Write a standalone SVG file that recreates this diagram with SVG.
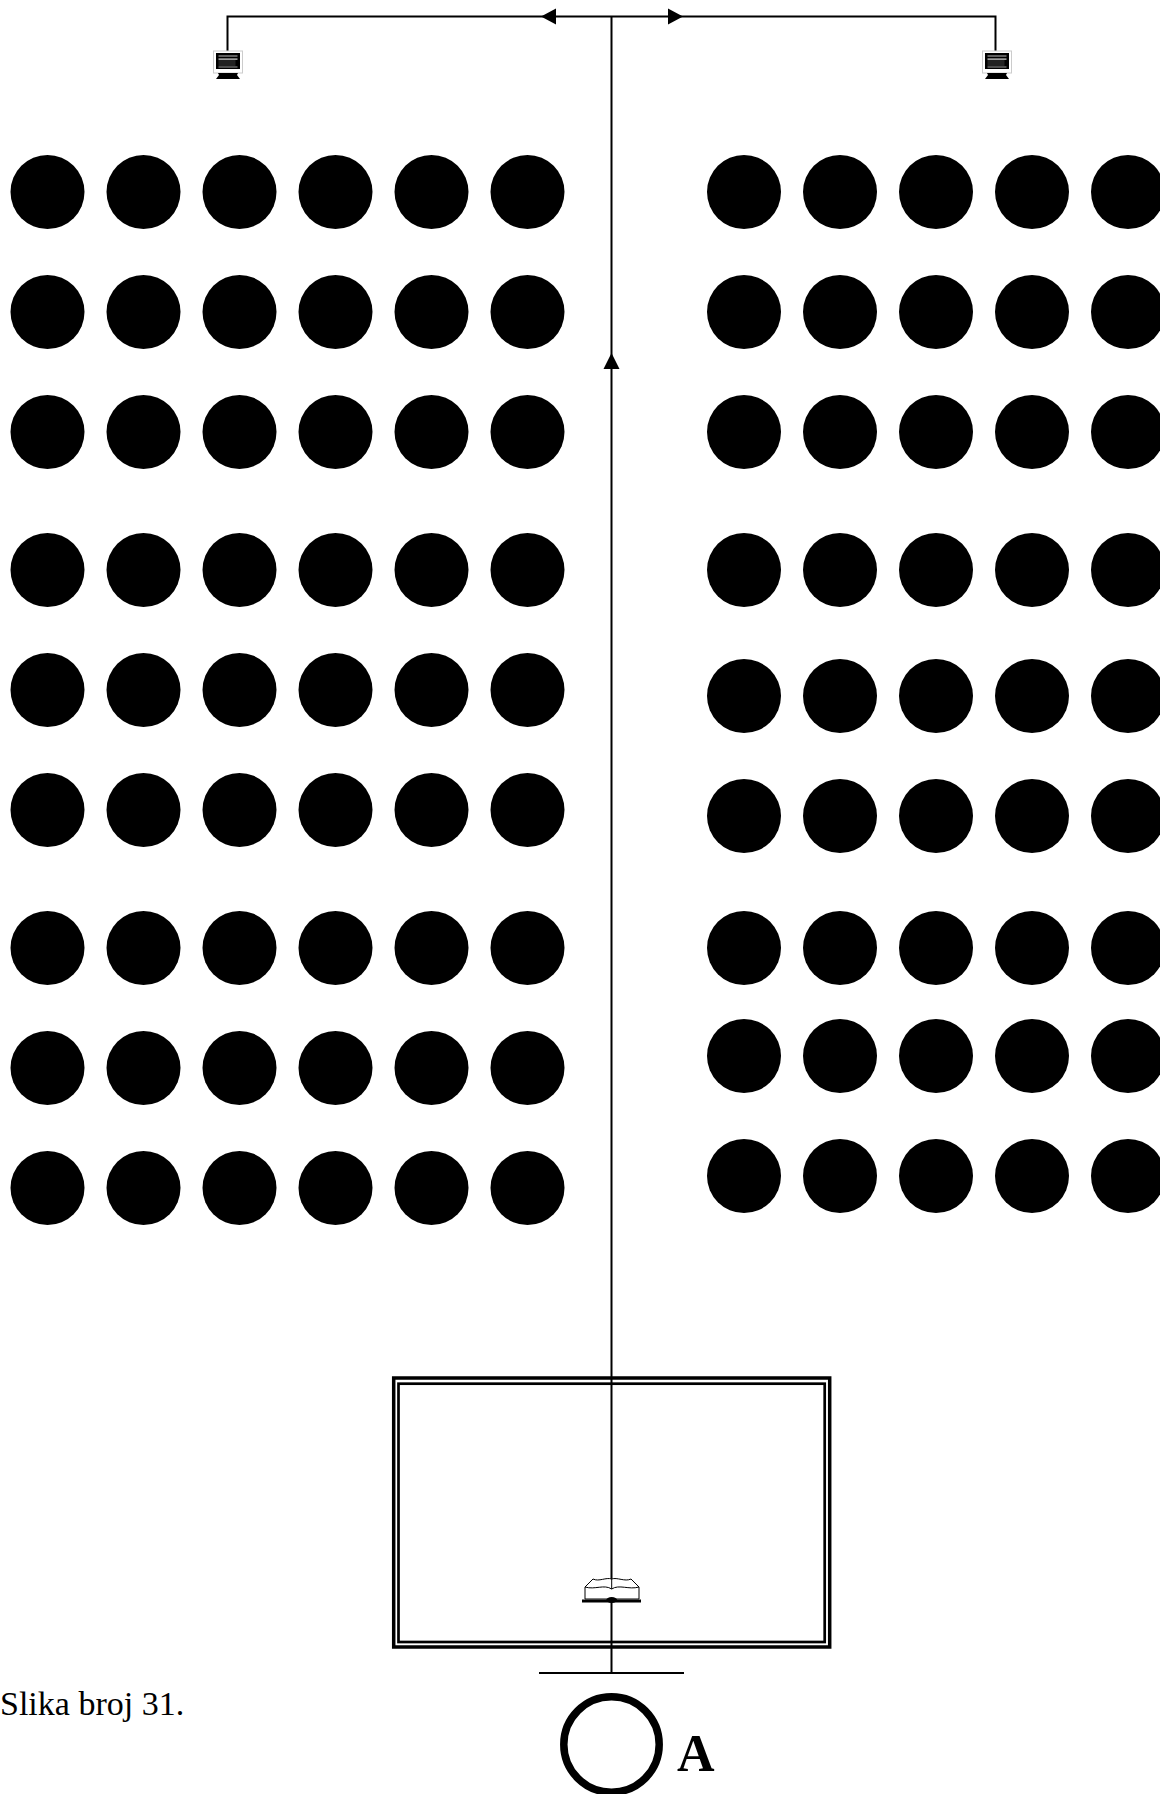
<svg xmlns="http://www.w3.org/2000/svg" width="1160" height="1794" viewBox="0 0 1160 1794">
<style>
.s{fill:#000;r:37px}
.c{fill:none;stroke:#000;stroke-width:2}
.a{fill:#000;stroke:none}
.f{fill:none;stroke:#000}
.t{font-family:"Liberation Serif","Times New Roman",serif;fill:#000}
.p{fill:#fff;stroke:#000;stroke-width:1}
</style>
<defs>
<g id="monitor">
<rect x="-14.5" y="-2" width="29" height="22" fill="#fff" stroke="#ccc" stroke-width="1"/>
<rect x="-12" y="0" width="24" height="16" fill="#000"/>
<rect x="-9.5" y="2.5" width="19" height="1" fill="#bbb"/>
<rect x="-9.5" y="5.5" width="19" height="1.2" fill="#ddd"/>
<rect x="-9.5" y="7" width="17" height="6" fill="#222"/>
<rect x="-9.5" y="13.5" width="19" height="1" fill="#999"/>
<path d="M-10 20H10L9 22L12 26H-12L-9 22Z" fill="#000"/>
</g>
</defs>
<g id="connectors">
<path class="c" d="M227.5 53V16.5H995.5V53"/>
<path class="c" d="M611.5 16.5V1673"/>
<path class="c" d="M539 1673H684"/>
<path class="a" d="M541 16.5L556 8.500V24.500Z"/>
<path class="a" d="M683 16.5L668 8.500V24.500Z"/>
<path class="a" d="M611.500 353L603.500 369H619.500Z"/>
</g>
<g id="frame">
<rect class="f" x="393.700" y="1378" width="436" height="269" stroke-width="3.500"/>
<rect class="f" x="398.500" y="1383.700" width="426.200" height="258.300" stroke-width="2.700"/>
</g>
<g id="monitor-left"><use href="#monitor" x="228" y="53"/></g>
<g id="monitor-right"><use href="#monitor" x="997" y="53"/></g>
<g id="book">
<path class="p" d="M585 1599V1587L593 1579C599 1582 606 1577 611.700 1579C617 1577 625 1582 631 1579L639 1587V1599Z"/>
<path d="M585 1587C595 1590 604 1584 611.700 1589C619 1584 629 1590 639 1587M611.700 1579V1589" fill="none" stroke="#000" stroke-width="1"/>
<rect x="582" y="1599.500" width="59" height="3" fill="#000"/>
<ellipse cx="611.700" cy="1600" rx="5.500" ry="3" fill="#000"/>
</g>
<g id="speaker-ring"><circle cx="611.500" cy="1744.500" r="47.700" fill="none" stroke="#000" stroke-width="7.500"/></g>
<g id="label-a"><text class="t" x="677" y="1771" font-size="52" font-weight="bold">A</text></g>
<g id="caption"><text class="t" x="0" y="1715" font-size="34">Slika broj 31.</text></g>
<g id="l1-1"><circle class="s" cx="47.500" cy="192"/></g><g id="l1-2"><circle class="s" cx="143.500" cy="192"/></g><g id="l1-3"><circle class="s" cx="239.500" cy="192"/></g><g id="l1-4"><circle class="s" cx="335.500" cy="192"/></g><g id="l1-5"><circle class="s" cx="431.500" cy="192"/></g><g id="l1-6"><circle class="s" cx="527.500" cy="192"/></g>
<g id="l2-1"><circle class="s" cx="47.500" cy="312"/></g><g id="l2-2"><circle class="s" cx="143.500" cy="312"/></g><g id="l2-3"><circle class="s" cx="239.500" cy="312"/></g><g id="l2-4"><circle class="s" cx="335.500" cy="312"/></g><g id="l2-5"><circle class="s" cx="431.500" cy="312"/></g><g id="l2-6"><circle class="s" cx="527.500" cy="312"/></g>
<g id="l3-1"><circle class="s" cx="47.500" cy="432"/></g><g id="l3-2"><circle class="s" cx="143.500" cy="432"/></g><g id="l3-3"><circle class="s" cx="239.500" cy="432"/></g><g id="l3-4"><circle class="s" cx="335.500" cy="432"/></g><g id="l3-5"><circle class="s" cx="431.500" cy="432"/></g><g id="l3-6"><circle class="s" cx="527.500" cy="432"/></g>
<g id="l4-1"><circle class="s" cx="47.500" cy="570"/></g><g id="l4-2"><circle class="s" cx="143.500" cy="570"/></g><g id="l4-3"><circle class="s" cx="239.500" cy="570"/></g><g id="l4-4"><circle class="s" cx="335.500" cy="570"/></g><g id="l4-5"><circle class="s" cx="431.500" cy="570"/></g><g id="l4-6"><circle class="s" cx="527.500" cy="570"/></g>
<g id="l5-1"><circle class="s" cx="47.500" cy="690"/></g><g id="l5-2"><circle class="s" cx="143.500" cy="690"/></g><g id="l5-3"><circle class="s" cx="239.500" cy="690"/></g><g id="l5-4"><circle class="s" cx="335.500" cy="690"/></g><g id="l5-5"><circle class="s" cx="431.500" cy="690"/></g><g id="l5-6"><circle class="s" cx="527.500" cy="690"/></g>
<g id="l6-1"><circle class="s" cx="47.500" cy="810"/></g><g id="l6-2"><circle class="s" cx="143.500" cy="810"/></g><g id="l6-3"><circle class="s" cx="239.500" cy="810"/></g><g id="l6-4"><circle class="s" cx="335.500" cy="810"/></g><g id="l6-5"><circle class="s" cx="431.500" cy="810"/></g><g id="l6-6"><circle class="s" cx="527.500" cy="810"/></g>
<g id="l7-1"><circle class="s" cx="47.500" cy="948"/></g><g id="l7-2"><circle class="s" cx="143.500" cy="948"/></g><g id="l7-3"><circle class="s" cx="239.500" cy="948"/></g><g id="l7-4"><circle class="s" cx="335.500" cy="948"/></g><g id="l7-5"><circle class="s" cx="431.500" cy="948"/></g><g id="l7-6"><circle class="s" cx="527.500" cy="948"/></g>
<g id="l8-1"><circle class="s" cx="47.500" cy="1068"/></g><g id="l8-2"><circle class="s" cx="143.500" cy="1068"/></g><g id="l8-3"><circle class="s" cx="239.500" cy="1068"/></g><g id="l8-4"><circle class="s" cx="335.500" cy="1068"/></g><g id="l8-5"><circle class="s" cx="431.500" cy="1068"/></g><g id="l8-6"><circle class="s" cx="527.500" cy="1068"/></g>
<g id="l9-1"><circle class="s" cx="47.500" cy="1188"/></g><g id="l9-2"><circle class="s" cx="143.500" cy="1188"/></g><g id="l9-3"><circle class="s" cx="239.500" cy="1188"/></g><g id="l9-4"><circle class="s" cx="335.500" cy="1188"/></g><g id="l9-5"><circle class="s" cx="431.500" cy="1188"/></g><g id="l9-6"><circle class="s" cx="527.500" cy="1188"/></g>
<g id="r1-1"><circle class="s" cx="744" cy="192"/></g><g id="r1-2"><circle class="s" cx="840" cy="192"/></g><g id="r1-3"><circle class="s" cx="936" cy="192"/></g><g id="r1-4"><circle class="s" cx="1032" cy="192"/></g><g id="r1-5"><circle class="s" cx="1128" cy="192"/></g>
<g id="r2-1"><circle class="s" cx="744" cy="312"/></g><g id="r2-2"><circle class="s" cx="840" cy="312"/></g><g id="r2-3"><circle class="s" cx="936" cy="312"/></g><g id="r2-4"><circle class="s" cx="1032" cy="312"/></g><g id="r2-5"><circle class="s" cx="1128" cy="312"/></g>
<g id="r3-1"><circle class="s" cx="744" cy="432"/></g><g id="r3-2"><circle class="s" cx="840" cy="432"/></g><g id="r3-3"><circle class="s" cx="936" cy="432"/></g><g id="r3-4"><circle class="s" cx="1032" cy="432"/></g><g id="r3-5"><circle class="s" cx="1128" cy="432"/></g>
<g id="r4-1"><circle class="s" cx="744" cy="570"/></g><g id="r4-2"><circle class="s" cx="840" cy="570"/></g><g id="r4-3"><circle class="s" cx="936" cy="570"/></g><g id="r4-4"><circle class="s" cx="1032" cy="570"/></g><g id="r4-5"><circle class="s" cx="1128" cy="570"/></g>
<g id="r5-1"><circle class="s" cx="744" cy="696"/></g><g id="r5-2"><circle class="s" cx="840" cy="696"/></g><g id="r5-3"><circle class="s" cx="936" cy="696"/></g><g id="r5-4"><circle class="s" cx="1032" cy="696"/></g><g id="r5-5"><circle class="s" cx="1128" cy="696"/></g>
<g id="r6-1"><circle class="s" cx="744" cy="816"/></g><g id="r6-2"><circle class="s" cx="840" cy="816"/></g><g id="r6-3"><circle class="s" cx="936" cy="816"/></g><g id="r6-4"><circle class="s" cx="1032" cy="816"/></g><g id="r6-5"><circle class="s" cx="1128" cy="816"/></g>
<g id="r7-1"><circle class="s" cx="744" cy="948"/></g><g id="r7-2"><circle class="s" cx="840" cy="948"/></g><g id="r7-3"><circle class="s" cx="936" cy="948"/></g><g id="r7-4"><circle class="s" cx="1032" cy="948"/></g><g id="r7-5"><circle class="s" cx="1128" cy="948"/></g>
<g id="r8-1"><circle class="s" cx="744" cy="1056"/></g><g id="r8-2"><circle class="s" cx="840" cy="1056"/></g><g id="r8-3"><circle class="s" cx="936" cy="1056"/></g><g id="r8-4"><circle class="s" cx="1032" cy="1056"/></g><g id="r8-5"><circle class="s" cx="1128" cy="1056"/></g>
<g id="r9-1"><circle class="s" cx="744" cy="1176"/></g><g id="r9-2"><circle class="s" cx="840" cy="1176"/></g><g id="r9-3"><circle class="s" cx="936" cy="1176"/></g><g id="r9-4"><circle class="s" cx="1032" cy="1176"/></g><g id="r9-5"><circle class="s" cx="1128" cy="1176"/></g>
</svg>
